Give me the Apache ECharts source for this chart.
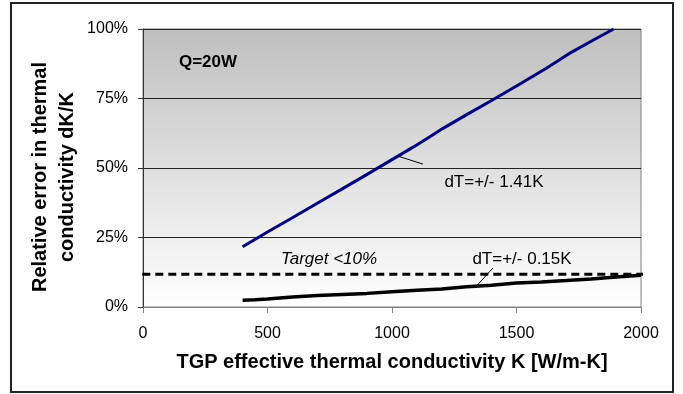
<!DOCTYPE html>
<html>
<head>
<meta charset="utf-8">
<script src="https://cdn.jsdelivr.net/npm/echarts@6/dist/echarts.min.js"></script>
<style>
html,body{margin:0;padding:0;background:#fff;}
#chart{width:683px;height:394px;}
</style>
</head>
<body>
<div id="chart"></div>
<script>
// K values [W/m-K] and relative error [%]
const blueK   = [400, 500, 600, 700, 800, 900, 1000, 1085, 1160, 1200, 1300, 1400, 1500, 1620, 1720, 1800, 1890];
const blueErr = [21.7, 27.0, 32.1, 37.3, 42.5, 47.7, 53.0, 57.5, 61.7, 64.0, 69.2, 74.3, 79.5, 85.9, 91.6, 95.6, 100];
const blackK   = [400, 450, 500, 600, 700, 800, 900, 1000, 1100, 1200, 1300, 1400, 1500, 1600, 1700, 1800, 1900, 2000];
const blackErr = [2.4, 2.6, 2.9, 3.6, 4.1, 4.5, 4.9, 5.5, 6.0, 6.5, 7.3, 7.8, 8.6, 9.0, 9.5, 10.1, 10.8, 11.4];
// target line, drawn a bit past both ends of the plot
const targetK = [-55, 2075];
const targetErr = 11.8;
const xTicks = [0, 500, 1000, 1500, 2000];
const yTicks = [0, 25, 50, 75, 100];
// leader lines [k1, e1, k2, e2]
const blueLeader = [1023, 54.3, 1124, 51.4];
const blackLeader = [1405, 14.0, 1340, 7.6];

const zip = (xs, ys) => xs.map((x, i) => [x, ys[i]]);
const leader = (l) => ({
  silent: true,
  symbol: 'none',
  label: { show: false },
  lineStyle: { color: '#000', width: 1, type: 'solid' },
  data: [[{ coord: [l[0], l[1]] }, { coord: [l[2], l[3]] }]]
});

const chart = echarts.init(document.getElementById('chart'));
const font = '"Liberation Sans", Arial, sans-serif';

const option = {
  animation: false,
  textStyle: { fontFamily: font },
  grid: {
    left: 143, right: 42, top: 29, bottom: 87,
    show: true,
    borderColor: '#808080',
    borderWidth: 1,
    backgroundColor: new echarts.graphic.LinearGradient(0, 0, 0, 1, [
      { offset: 0, color: '#bfbfbf' },
      { offset: 1, color: '#ffffff' }
    ])
  },
  xAxis: {
    type: 'value',
    min: xTicks[0], max: xTicks[xTicks.length - 1], interval: 500,
    axisLine: { lineStyle: { color: '#808080', width: 1 } },
    axisTick: { show: true, length: 6, lineStyle: { color: '#808080' } },
    axisLabel: { color: '#000', fontSize: 16, margin: 19, fontFamily: font, formatter: v => String(v) },
    splitLine: { show: false }
  },
  yAxis: {
    type: 'value',
    min: yTicks[0], max: yTicks[yTicks.length - 1], interval: 25,
    axisLine: { show: true, lineStyle: { color: '#333', width: 1 } },
    axisTick: { show: true, length: 5, lineStyle: { color: '#333' } },
    axisLabel: { color: '#000', fontSize: 16, margin: 15, formatter: '{value}%', fontFamily: font },
    splitLine: { show: true, lineStyle: { color: '#222', width: 1 } }
  },
  series: [
    {
      name: 'dT=+/- 1.41K',
      type: 'line',
      data: zip(blueK, blueErr),
      showSymbol: false,
      lineStyle: { color: '#000080', width: 3 },
      markLine: leader(blueLeader),
      z: 3
    },
    {
      name: 'dT=+/- 0.15K',
      type: 'line',
      data: zip(blackK, blackErr),
      showSymbol: false,
      lineStyle: { color: '#000', width: 3.5 },
      markLine: leader(blackLeader),
      z: 3
    },
    {
      name: 'Target',
      type: 'line',
      data: targetK.map(k => [k, targetErr]),
      showSymbol: false,
      clip: false,
      lineStyle: { color: '#000', width: 3, type: [8, 5] },
      z: 4
    }
  ],
  graphic: [
    {
      type: 'rect', silent: true, z: 0,
      shape: { x: 11, y: 3, width: 662, height: 389 },
      style: { fill: null, stroke: '#222', lineWidth: 2 }
    },
    {
      type: 'text', x: 208, y: 62, z: 10,
      style: { text: 'Q=20W', font: 'bold 17px ' + font, fill: '#000', align: 'center', verticalAlign: 'middle' }
    },
    {
      type: 'text', x: 494, y: 182, z: 10,
      style: { text: 'dT=+/- 1.41K', font: '17px ' + font, fill: '#000', align: 'center', verticalAlign: 'middle' }
    },
    {
      type: 'text', x: 329, y: 259, z: 10,
      style: { text: 'Target <10%', font: 'italic 17px ' + font, fill: '#000', align: 'center', verticalAlign: 'middle' }
    },
    {
      type: 'text', x: 522, y: 259, z: 10,
      style: { text: 'dT=+/- 0.15K', font: '17px ' + font, fill: '#000', align: 'center', verticalAlign: 'middle' }
    },
    {
      type: 'text', x: 392, y: 362, z: 10,
      style: { text: 'TGP effective thermal conductivity K [W/m-K]', font: 'bold 20px ' + font, fill: '#000', align: 'center', verticalAlign: 'middle' }
    },
    {
      type: 'text', x: 54, y: 177, rotation: Math.PI / 2, z: 10,
      style: {
        text: 'Relative error in thermal\nconductivity dK/K',
        font: 'bold 20px ' + font, fill: '#000',
        align: 'center', verticalAlign: 'middle', lineHeight: 27
      }
    }
  ]
};
option && chart.setOption(option);
</script>
</body>
</html>
